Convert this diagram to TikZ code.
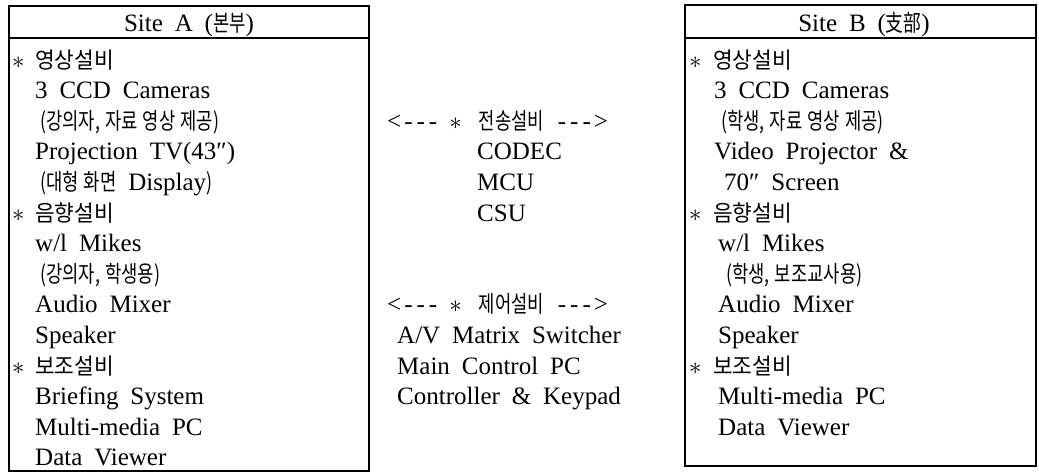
\documentclass[tikz,border=0pt]{standalone}
\usepackage{fontspec}
\setmainfont{Liberation Serif}[WordSpace=1.9]
\newfontfamily\korfont{Noto Sans CJK KR}[Scale=0.9,FakeStretch=0.95,WordSpace=1.0]
\newfontfamily\kornfont{Noto Sans CJK KR}[Scale=0.92,FakeStretch=0.77,WordSpace=1.3]
\newcommand{\kor}[1]{{\korfont #1}}
\newcommand{\korn}[1]{{\kornfont #1}}
\newcommand{\st}{$\ast$}
\newcommand{\lar}{<\kern3pt-\kern4pt-\kern4pt-}
\newcommand{\rar}{-\kern4pt-\kern4pt-\kern3pt>}
\begin{document}
\begin{tikzpicture}[x=1pt,y=-1pt,
  txt/.style={anchor=base west,inner sep=0pt,font=\fontsize{25}{30}\selectfont},
  hdr/.style={anchor=base,inner sep=0pt,font=\fontsize{25}{30}\selectfont},
  frame/.style={draw=black,line width=1.6pt}]
\useasboundingbox (0,0) rectangle (1039,472);
% boxes
\coordinate (A1) at (9,6);   \coordinate (A2) at (369,471);
\coordinate (B1) at (685,5); \coordinate (B2) at (1036,466);
\draw[frame] (A1) rectangle (A2);
\draw[frame] (B1) rectangle (B2);
\coordinate (Asl) at (9,38);  \coordinate (Asr) at (369,38);
\coordinate (Bsl) at (685,38); \coordinate (Bsr) at (1036,38);
\draw[frame] (Asl) -- (Asr);
\draw[frame] (Bsl) -- (Bsr);
% headers
\node[hdr] (hA) at (189,31) {Site A (\korn{본부})};
\node[hdr] (hB) at (864,31) {Site B (\korn{支部})};
% left column
\node[txt] (as0) at (12,68) {\st};
\node[txt] (a0)  at (35,68) {\kor{영상설비}};
\node[txt] (a1)  at (35,98.6) {3 CCD Cameras};
\node[txt] (a2)  at (40,129.2) {\korn{(강의자, 자료 영상 제공)}};
\node[txt] (a3)  at (35,159.8) {Projection TV(43″)};
\node[txt] (a4)  at (40,190.4) {\korn{(대형 화면} Display\korn{)}};
\node[txt] (as5) at (12,221) {\st};
\node[txt] (a5)  at (35,221) {\kor{음향설비}};
\node[txt] (a6)  at (35,251.6) {w/l Mikes};
\node[txt] (a7)  at (40,282.2) {\korn{(강의자, 학생용)}};
\node[txt] (a8)  at (35,312.8) {Audio Mixer};
\node[txt] (a9)  at (35,343.4) {Speaker};
\node[txt] (as10) at (12,374) {\st};
\node[txt] (a10) at (35,374) {\kor{보조설비}};
\node[txt] (a11) at (35,404.6) {Briefing System};
\node[txt] (a12) at (35,435.2) {Multi-media PC};
\node[txt] (a13) at (35,465.8) {Data Viewer};
% middle
\node[txt] (m0) at (387,129) {\lar\hspace{12pt}\st\hspace{17pt}\korn{전송설비}\hspace{14pt}\rar};
\node[txt] (m1) at (477,159.8) {CODEC};
\node[txt] (m2) at (477,190.4) {MCU};
\node[txt] (m3) at (477,221) {CSU};
\node[txt] (n0) at (387,312.8) {\lar\hspace{12pt}\st\hspace{17pt}\korn{제어설비}\hspace{14pt}\rar};
\node[txt] (n1) at (397,343.4) {A/V Matrix Switcher};
\node[txt] (n2) at (397,374) {Main Control PC};
\node[txt] (n3) at (397,404.6) {Controller \& Keypad};
% right column
\node[txt] (bs0) at (689,68) {\st};
\node[txt] (b0)  at (713,68) {\kor{영상설비}};
\node[txt] (b1)  at (714,98.6) {3 CCD Cameras};
\node[txt] (b2)  at (721,129.2) {\korn{(학생, 자료 영상 제공)}};
\node[txt] (b3)  at (714,159.8) {Video Projector \&};
\node[txt] (b4)  at (724,190.4) {70″ Screen};
\node[txt] (bs5) at (689,221) {\st};
\node[txt] (b5)  at (713,221) {\kor{음향설비}};
\node[txt] (b6)  at (718,251.6) {w/l Mikes};
\node[txt] (b7)  at (726,282.2) {\korn{(학생, 보조교사용)}};
\node[txt] (b8)  at (718,312.8) {Audio Mixer};
\node[txt] (b9)  at (718,343.4) {Speaker};
\node[txt] (bs10) at (689,374) {\st};
\node[txt] (b10) at (713,374) {\kor{보조설비}};
\node[txt] (b11) at (718,404.6) {Multi-media PC};
\node[txt] (b12) at (718,435.2) {Data Viewer};
\end{tikzpicture}
\end{document}
